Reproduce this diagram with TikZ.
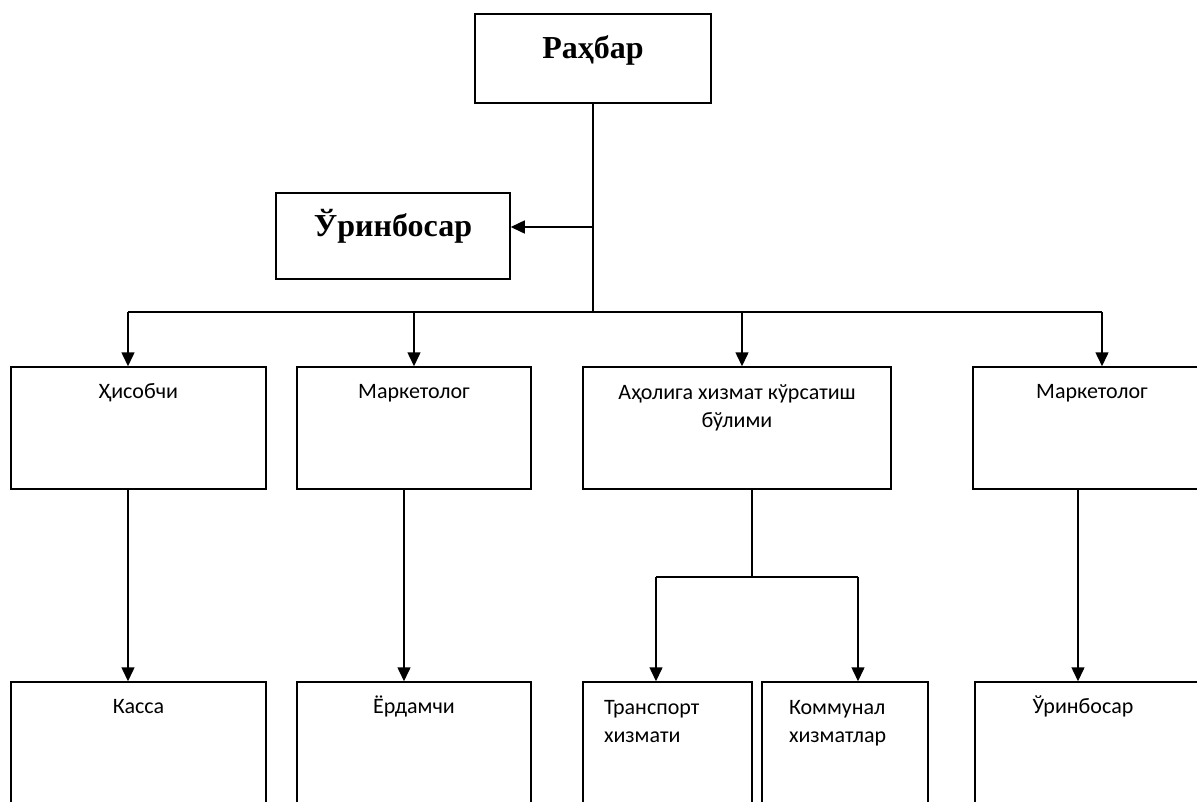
\documentclass[tikz,border=0pt]{standalone}
\usepackage{fontspec}
\usetikzlibrary{arrows.meta}
\setmainfont{Carlito}
\newfontfamily\headfont{Liberation Serif}

\begin{document}
\begin{tikzpicture}[x=1pt, y=-1pt, line width=1.5pt,
  arr/.style = {-{Triangle[length=14pt, width=13pt]}},
  box/.style = {draw, minimum height=122pt},
  headtxt/.style = {anchor=center, font=\headfont\bfseries\fontsize{32}{36}\selectfont},
  lbl/.style = {yshift=-12pt, inner sep=3pt, font=\fontsize{22}{28}\selectfont},
  txt/.style = {lbl, anchor=north, text height=16pt, text depth=5pt},
  mtxt/.style = {lbl, anchor=north, align=center, yshift=-3pt},
  ltxt/.style = {lbl, anchor=north west, align=left, yshift=-3pt}]
\useasboundingbox (0,0) rectangle (1197,801);
\clip (0,0) rectangle (1197,801);

% top
\node[draw, minimum width=236pt, minimum height=89pt, label={[headtxt, yshift=8pt]center:Раҳбар}] (boss) at (593,58.5) {};
\node[draw, minimum width=234pt, minimum height=86pt, label={[headtxt, yshift=10pt]center:Ўринбосар}] (deputy) at (393,236) {};

% first row
\node[box, minimum width=255pt, label={[txt]north:Ҳисобчи}] (hisob) at (138.5,428) {};
\node[box, minimum width=234pt, label={[txt]north:Маркетолог}] (mark1) at (414,428) {};
\node[box, minimum width=308pt, label={[mtxt]north:Аҳолига хизмат кўрсатиш\\бўлими}] (aholi) at (737,428) {};
\node[box, minimum width=238pt, label={[txt]north:Маркетолог}] (mark2) at (1092,428) {};

% second row
\node[box, minimum width=255pt, label={[txt]north:Касса}] (kassa) at (138.5,743) {};
\node[box, minimum width=234pt, label={[txt]north:Ёрдамчи}] (yordam) at (414,743) {};
\node[box, minimum width=169pt, label={[ltxt, xshift=18pt]north west:Транспорт\\хизмати}] (trans) at (667.5,743) {};
\node[box, minimum width=166pt, label={[ltxt, xshift=24pt]north west:Коммунал\\хизматлар}] (komm) at (845,743) {};
\node[box, minimum width=240pt, label={[txt, xshift=-12pt]north:Ўринбосар}] (urin2) at (1095,743) {};

% trunk and bus
\coordinate (bus) at (593,312);
\coordinate (dep-in) at ([yshift=9pt]deputy.east);
\coordinate (h-in) at ([xshift=-10.5pt]hisob.north);
\coordinate (a-in) at ([xshift=5pt]aholi.north);
\coordinate (m2-in) at ([xshift=10pt]mark2.north);
\draw (boss.south) -- (bus);
\draw[arr] (dep-in -| boss.south) -- (dep-in);
\draw (h-in |- bus) -- (m2-in |- bus);
\draw[arr] (h-in |- bus) -- (h-in);
\draw[arr] (mark1.north |- bus) -- (mark1.north);
\draw[arr] (a-in |- bus) -- (a-in);
\draw[arr] (m2-in |- bus) -- (m2-in);

% down to second row
\coordinate (h-out) at ([xshift=-10.5pt]hisob.south);
\coordinate (m1-out) at ([xshift=-10pt]mark1.south);
\coordinate (m2-out) at ([xshift=-14pt]mark2.south);
\coordinate (a-out) at ([xshift=15pt]aholi.south);
\coordinate (split) at (752,577);
\coordinate (t-in) at ([xshift=-11.5pt]trans.north);
\coordinate (k-in) at ([xshift=13pt]komm.north);
\draw[arr] (h-out) -- (h-out |- kassa.north);
\draw[arr] (m1-out) -- (m1-out |- yordam.north);
\draw[arr] (m2-out) -- (m2-out |- urin2.north);
\draw (a-out) -- (split);
\draw (t-in |- split) -- (k-in |- split);
\draw[arr] (t-in |- split) -- (t-in);
\draw[arr] (k-in |- split) -- (k-in);
\end{tikzpicture}
\end{document}
